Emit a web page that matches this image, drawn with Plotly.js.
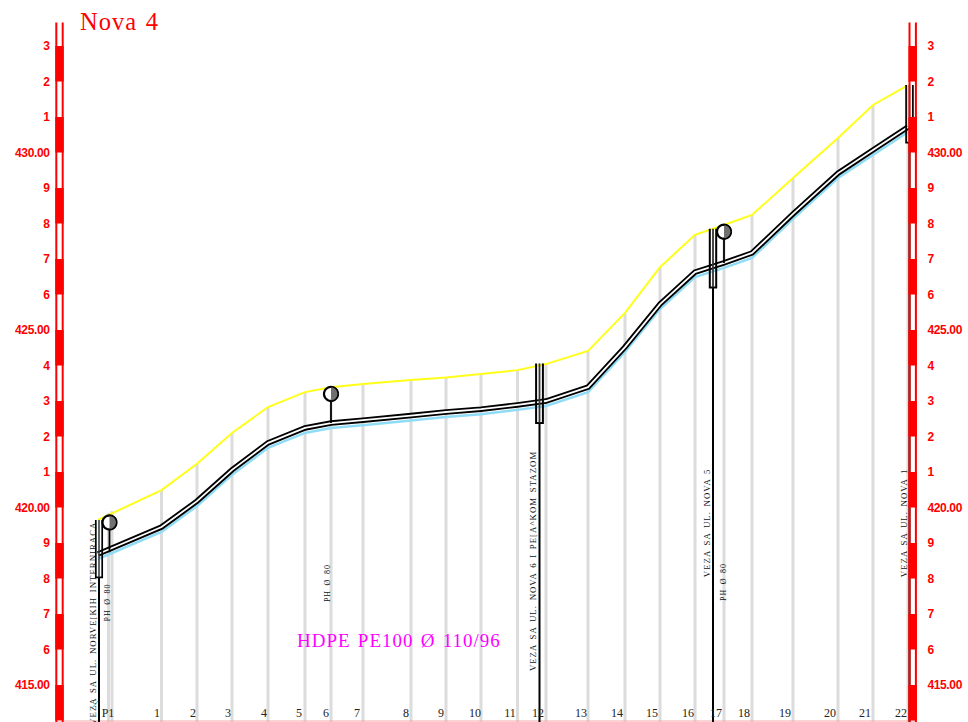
<!DOCTYPE html>
<html>
<head>
<meta charset="utf-8">
<script src="https://cdn.plot.ly/plotly-3.0.1.min.js"></script>
<style>
html,body{margin:0;padding:0;background:#fff;overflow:hidden}
#chart{width:968px;height:722px}
.annotation-text{letter-spacing:1px;word-spacing:1.5px}
.ytick text,.y2tick text{letter-spacing:-0.35px}
</style>
</head>
<body>
<div id="chart"></div>
<script>
// Chainage (drawing units) of profile vertices
const routeX = [98,161.5,197,232,268,305,331,363,411,446,481,517.5,546,588,625,660,695,724,752,793,838,873,908];
// Elevations (m)
const terrain = [419.65,420.49,421.23,422.10,422.83,423.25,423.39,423.48,423.59,423.66,423.76,423.87,424.04,424.41,425.48,426.77,427.68,427.96,428.24,429.28,430.41,431.34,431.90];
const pipe = [418.69,419.45,420.18,421.06,421.82,422.24,422.38,422.46,422.59,422.69,422.77,422.89,423.00,423.39,424.52,425.73,426.63,426.89,427.17,428.27,429.42,430.07,430.72];
const bedding = [418.55,419.31,420.04,420.92,421.68,422.10,422.24,422.32,422.45,422.55,422.63,422.75,422.86,423.25,424.38,425.59,426.49,426.75,427.03,428.13,429.28,429.93,430.58];

const gridX = [108.5,112,161.5,197,232,268,305,331,363,411,446,481,517.5,546,588,625,660,695,724,752,793,838,873,908];
const gridTop = [419.85,419.9,420.49,421.23,422.10,422.83,423.25,423.39,423.48,423.59,423.66,423.76,423.87,424.04,424.41,425.48,426.77,427.68,427.96,428.24,429.28,430.41,431.34,431.90];

const stationLabels = ['P1','1','2','3','4','5','6','7','8','9','10','11','12','13','14','15','16','17','18','19','20','21','22'];
const stationLabelX = [108,157,193,228,264,299,326,357,406,441,475,510,538,581,617,652,688,716,744,785,830,865,901];

const elevTicks = [433,432,431,430,429,428,427,426,425,424,423,422,421,420,419,418,417,416,415];
const elevLabels = ['3','2','1','430.00','9','8','7','6','425.00','4','3','2','1','420.00','9','8','7','6','415.00'];

const rulerBases = [432,430,428,426,424,422,420,418,416,414];
const rulerTop = 433.66;
const yBottom = 413.958, yTop = 434.296;

// Connections: x, chamber half width, chamber top/bottom elevation, stroke
const connX = [99,539.5,713,909.5];
const connHalf = [3.2,3.4,3.2,3.4];
const connTop = [419.65,424.06,427.85,431.90];
const connBottom = [418.03,422.38,426.20,430.28];
const connStroke = [1.7,2,2,1.7];

// Hydrants
const hydrantX = [109.5,331,724];
const hydrantY = [419.58,423.20,427.77];
const hydrantFoot = [418.74,422.38,426.89];
const hydrantR = 7;
const pxPerM = 35.5;

const connLabels = ['VEZA SA UL. NORVE[KIH INTERNIRACA','VEZA SA UL. NOVA 6 I PE[A^KOM STAZOM','VEZA SA UL. NOVA 5','VEZA SA UL. NOVA 1'];
const connLabelX = [93,533,707,904];
const connLabelY = [419.64,418.49,419.56,419.56];
const phLabels = ['PH Ø 80','PH Ø 80','PH Ø 80'];
const phLabelX = [106.5,327,723];
const phLabelY = [417.31,417.87,417.9];

const RED='#ff0000', SERIF='"Liberation Serif", serif', SANS='"Liberation Sans", sans-serif';
const traces=[];
function line(x,y,color,width,extra){traces.push(Object.assign({type:'scatter',mode:'lines',x:x,y:y,line:{color:color,width:width,simplify:false},hoverinfo:'skip',showlegend:false,cliponaxis:true},extra||{}));}

// Station drop lines
const gx=[],gy=[];
gridX.forEach((x,i)=>{gx.push(x,x,null);gy.push(yBottom,gridTop[i],null);});
line(gx,gy,'#dcdcdc',3);

// Bottom border
line([56,916],[413.986,413.986],'#f6a6a6',1);

// Elevation rulers
[[59.5,'y'],[912.7,'y2']].forEach(r=>{
  traces.push({type:'bar',x:rulerBases.map(()=>r[0]),y:rulerBases.map(()=>1),base:rulerBases,width:rulerBases.map(()=>8.4),yaxis:r[1],marker:{color:RED,line:{width:0}},hoverinfo:'skip',showlegend:false});
  line([r[0]-3.2,r[0]-3.2,null,r[0]+3.2,r[0]+3.2],[yBottom,rulerTop,null,yBottom,rulerTop],RED,2,{yaxis:r[1]});
});

// Profile
line(routeX,terrain,'#ffff1a',2);
line(routeX,bedding,'#8fdcf7',2.5);
line(routeX,pipe,'#000000',5.5);
line(routeX,pipe,'#ffffff',1.8);
line([92,98],[414.35,414.55],'#45c8d8',1);

// Connections
connX.forEach((x,i)=>{
  const h=connHalf[i];
  line([x-h,x-h,x+h,x+h],[connTop[i],connBottom[i],connBottom[i],connTop[i]],'#000000',connStroke[i]);
  line([x,x],[connTop[i],connBottom[i]],'#333333',connStroke[i]-0.2);
  line([x,x],[connBottom[i],yBottom],'#000000',2);
});

// Hydrants
hydrantX.forEach((x,i)=>{
  line([x,x],[hydrantY[i],hydrantFoot[i]],'#000000',1.8);
  const cx=[],cy=[];
  for(let a=0;a<=360;a+=10){cx.push(x+hydrantR*Math.cos(a*Math.PI/180));cy.push(hydrantY[i]+hydrantR/pxPerM*Math.sin(a*Math.PI/180));}
  line(cx,cy,'#000000',2.2,{fill:'toself',fillcolor:'#ffffff'});
  const hx=[x],hy=[hydrantY[i]+hydrantR/pxPerM];
  for(let a=90;a>=-90;a-=10){hx.push(x+hydrantR*Math.cos(a*Math.PI/180));hy.push(hydrantY[i]+hydrantR/pxPerM*Math.sin(a*Math.PI/180));}
  line(hx,hy,'#000000',1.2,{fill:'toself',fillcolor:'#707070'});
});

const anns=[];
function note(t,x,y,size,color,angle,extra){anns.push(Object.assign({text:t,x:x,y:y,xref:'x',yref:'y',showarrow:false,textangle:angle||0,font:{family:SERIF,size:size,color:color}},extra||{}));}
note('Nova 4',78,433.70,24.5,RED,0,{xanchor:'left'});
note('HDPE PE100 Ø 110/96',399,416.24,19,'#ff00ff',0);
connLabels.forEach((t,i)=>note(t,connLabelX[i],connLabelY[i],8.8,'#111111',-90,i===0?{yanchor:'top'}:{}));
phLabels.forEach((t,i)=>note(t,phLabelX[i],phLabelY[i],8,'#111111',-90));

const yCommon={range:[yBottom,yTop],tickmode:'array',tickvals:elevTicks,ticktext:elevLabels,showgrid:false,zeroline:false,showline:false,ticks:'outside',tickcolor:'rgba(0,0,0,0)',tickwidth:1,tickfont:{family:SANS,size:12,color:RED,weight:700},fixedrange:true};
const layout={
  width:968,height:722,margin:{l:54,r:50,t:0,b:0,pad:0},
  paper_bgcolor:'#ffffff',plot_bgcolor:'#ffffff',showlegend:false,barmode:'overlay',
  xaxis:{range:[54,918],tickmode:'array',tickvals:stationLabelX,ticktext:stationLabels,ticklabelposition:'inside',ticks:'',showgrid:false,zeroline:false,showline:false,tickfont:{family:SERIF,size:12,color:'#222222'},fixedrange:true},
  yaxis:Object.assign({},yCommon,{side:'left',ticklen:1}),
  yaxis2:Object.assign({},yCommon,{side:'right',overlaying:'y',ticklen:6}),
  annotations:anns
};
Plotly.newPlot('chart',traces,layout,{displayModeBar:false,staticPlot:true});
</script>
</body>
</html>
